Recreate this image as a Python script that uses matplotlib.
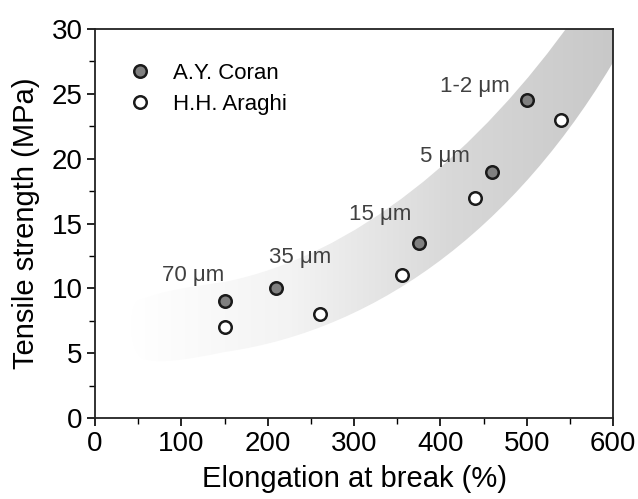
import numpy as np
import matplotlib
matplotlib.use("Agg")
import matplotlib.pyplot as plt
from matplotlib.patches import PathPatch
from matplotlib.path import Path
from matplotlib.colors import LinearSegmentedColormap

plt.rcParams['font.family'] = ['Liberation Sans', 'DejaVu Sans']

# data
coran_x = [150, 210, 375, 460, 500]
coran_y = [9, 10, 13.5, 19, 24.5]
araghi_x = [150, 260, 355, 440, 540]
araghi_y = [7, 8, 11, 17, 23]

size_labels = ["70 \u03bcm", "35 \u03bcm", "15 \u03bcm", "5 \u03bcm", "1-2 \u03bcm"]
label_x = [113, 238, 330, 405, 440]
label_y = [11.0, 12.4, 15.7, 20.2, 25.6]

# trend band outline as bezier path (decorative shading)
band_verts = [(48, 9.0),
              (80, 9.9), (110, 10.1), (150, 10.5),
              (300, 12.5), (445, 20.5), (556, 31),
              (640, 31),
              (622, 30),
              (500, 15), (330, 6.8), (150, 5.1),
              (100, 4.4), (70, 4.2), (55, 4.6),
              (40, 5.2), (38, 8.0), (48, 9.0)]
band_codes = [Path.MOVETO,
              Path.CURVE4, Path.CURVE4, Path.CURVE4,
              Path.CURVE4, Path.CURVE4, Path.CURVE4,
              Path.LINETO,
              Path.LINETO,
              Path.CURVE4, Path.CURVE4, Path.CURVE4,
              Path.CURVE4, Path.CURVE4, Path.CURVE4,
              Path.CURVE4, Path.CURVE4, Path.CURVE4]

fig = plt.figure(figsize=(6.38, 4.99), dpi=100)
ax = fig.add_axes([0.149, 0.162, 0.812, 0.780])

band = PathPatch(Path(band_verts, band_codes), facecolor='none', edgecolor='none')
ax.add_patch(band)
cmap = LinearSegmentedColormap.from_list('band', ['#ffffff', '#f3f3f3', '#d8d8d8', '#c8c8c8'])
grad = np.tile(np.linspace(0, 1, 256), (2, 1))
im = ax.imshow(grad, extent=[40, 600, 0, 32], aspect='auto', cmap=cmap, origin='lower', zorder=1)
im.set_clip_path(band)

ax.plot(coran_x, coran_y, 'o', ms=9, mfc='#808080', mec='#1a1a1a', mew=1.8,
        ls='none', label='A.Y. Coran', zorder=3)
ax.plot(araghi_x, araghi_y, 'o', ms=9, mfc='white', mec='#1a1a1a', mew=1.8,
        ls='none', label='H.H. Araghi', zorder=3)

for t, x, y in zip(size_labels, label_x, label_y):
    ax.text(x, y, t, ha='center', va='center', fontsize=16, color='#404040', zorder=4)

ax.set_xlim(0, 600)
ax.set_ylim(0, 30)
ax.set_xticks(range(0, 601, 100))
ax.set_yticks(range(0, 31, 5))
ax.set_xticks(range(50, 600, 100), minor=True)
ax.set_yticks(np.arange(2.5, 30, 5), minor=True)
ax.tick_params(which='major', direction='out', length=6, width=1.2, labelsize=20,
               colors='black', pad=3)
ax.tick_params(which='minor', direction='out', length=4, width=1.0)
for s in ax.spines.values():
    s.set_linewidth(1.3)
    s.set_color('#222222')

ax.set_xlabel('Elongation at break (%)', fontsize=21, labelpad=6)
ax.set_ylabel('Tensile strength (MPa)', fontsize=21, labelpad=8)

ax.legend(loc='upper left', bbox_to_anchor=(0.022, 0.965), frameon=False, fontsize=16,
          handletextpad=0.9, labelspacing=0.45, handlelength=1.2)

fig.savefig('out.png', dpi=100)
